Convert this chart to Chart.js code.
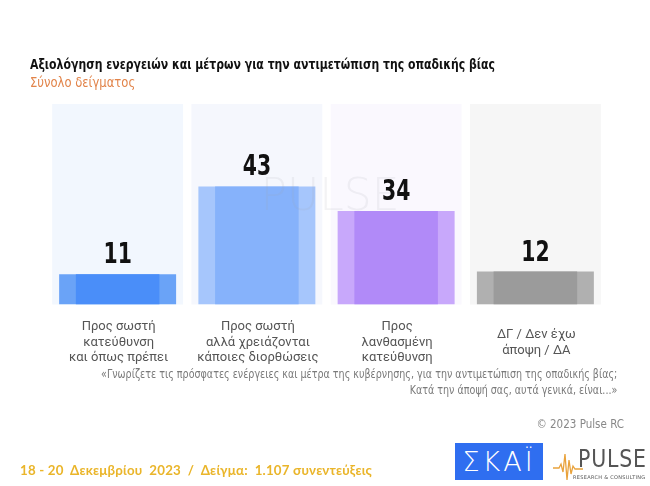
<!DOCTYPE html>
<html>
<head>
<meta charset="utf-8">
<script src="https://cdn.jsdelivr.net/npm/chart.js@4.4.1/dist/chart.umd.min.js"></script>
<style>
  html, body { margin:0; padding:0; background:#fff; }
  #wrap { position:relative; width:650px; height:486px; overflow:hidden; font-family:'DejaVu Sans Condensed','Roboto',sans-serif; }
  #c { position:absolute; left:0; top:0; }
  .t { position:absolute; white-space:nowrap; }
  #title { left:30px; top:56px; font-size:14.5px; font-weight:bold; color:#111; transform:scaleX(0.835); transform-origin:left; }
  #sub { left:30px; top:74px; font-size:14px; color:#e2844a; transform:scaleX(0.92); transform-origin:left; }
  #q { right:33px; top:366px; font-size:12px; color:#7a7a7a; text-align:right; line-height:16px; transform:scaleX(0.885); transform-origin:right; }
  #copy { right:26px; top:417px; font-size:11.5px; color:#888; }
  #date { left:20px; top:462px; font-family:Lato,'Open Sans',sans-serif; font-size:13.3px; font-weight:bold; color:#eab52a; letter-spacing:0.2px; }
  #skai { position:absolute; left:455px; top:443px; width:88px; height:37px; background:#2f6ef0; color:#fff; font-family:'DejaVu Sans',sans-serif; font-size:27px; line-height:37px; text-align:center; letter-spacing:3px; font-weight:300; }
  #pulse { position:absolute; left:578px; top:444px; font-family:'DejaVu Sans','Liberation Sans',sans-serif; font-size:25px; color:#555; letter-spacing:1px; font-weight:normal; transform:scaleX(0.82); transform-origin:left; }
  #pulsesub { position:absolute; left:573px; top:474px; font-size:5px; color:#555; letter-spacing:0.3px; font-family:'DejaVu Sans',sans-serif; }
</style>
</head>
<body>
<div id="wrap">
  <canvas id="c" width="650" height="486"></canvas>
  <div class="t" id="title">Αξιολόγηση ενεργειών και μέτρων για την αντιμετώπιση της οπαδικής βίας</div>
  <div class="t" id="sub">Σύνολο δείγματος</div>
  <div class="t" id="q">«Γνωρίζετε τις πρόσφατες ενέργειες και μέτρα της κυβέρνησης, για την αντιμετώπιση της οπαδικής βίας;<br>Κατά την άποψή σας, αυτά γενικά, είναι...»</div>
  <div class="t" id="copy">© 2023 Pulse RC</div>
  <div class="t" id="date">18 - 20&nbsp; Δεκεμβρίου&nbsp; 2023&nbsp; /&nbsp; Δείγμα:&nbsp; 1.107 συνεντεύξεις</div>
  <div id="skai">ΣΚΑΪ</div>
  <svg style="position:absolute;left:553px;top:446px" width="30" height="36" viewBox="0 0 30 36">
    <polyline points="0,22 6,22 8,18 10,26 12,8 14,34 16,14 18,28 20,20 22,23 30,23" fill="none" stroke="#e9a23b" stroke-width="1.3"/>
  </svg>
  <div id="pulse">PULSE</div>
  <div id="pulsesub">RESEARCH &amp; CONSULTING</div>
</div>
<script>
const categories = [
  ['Προς σωστή', 'κατεύθυνση', 'και όπως πρέπει'],
  ['Προς σωστή', 'αλλά χρειάζονται', 'κάποιες διορθώσεις'],
  ['Προς', 'λανθασμένη', 'κατεύθυνση'],
  ['ΔΓ / Δεν έχω', 'άποψη / ΔΑ']
];
const values = [11, 43, 34, 12];
const scaleMax = 73;
const outerColors = ['#6aa3f7', '#a6c6fc', '#c8a8fb', '#b0b0b0'];
const innerColors = ['#4a8ef9', '#86b2fb', '#b18af8', '#9b9b9b'];
const columnColors = ['#f2f7fe', '#f5f7fd', '#faf8fe', '#f6f6f6'];

const columnsPlugin = {
  id: 'columns',
  beforeDatasetsDraw(chart) {
    const {ctx, chartArea, scales:{x}} = chart;
    const w = (x.getPixelForValue(1) - x.getPixelForValue(0)) * 0.94;
    ctx.save();
    categories.forEach((c, i) => {
      const cx = x.getPixelForValue(i);
      ctx.fillStyle = columnColors[i];
      ctx.fillRect(cx - w/2, chartArea.top, w, chartArea.bottom - chartArea.top);
    });
    ctx.restore();
  },
  afterDatasetsDraw(chart) {
    const {ctx, chartArea, scales:{x}} = chart;
    ctx.save();
    // watermark
    ctx.fillStyle = 'rgba(160,160,170,0.13)';
    ctx.font = '300 44px "DejaVu Sans", sans-serif';
    ctx.textAlign = 'center';
    ctx.textBaseline = 'alphabetic';
    ctx.fillText('PULSE', 330, 210);
    // values
    const meta = chart.getDatasetMeta(1);
    ctx.fillStyle = '#111';
    ctx.font = 'bold 29px "DejaVu Sans Condensed", sans-serif';
    meta.data.forEach((bar, i) => {
      ctx.save();
      ctx.translate(bar.x, bar.y - 11);
      ctx.scale(0.78, 1);
      ctx.fillText(String(values[i]), 0, 0);
      ctx.restore();
    });
    // category labels
    ctx.fillStyle = '#555';
    ctx.font = '13px Roboto, "DejaVu Sans Condensed", sans-serif';
    ctx.textBaseline = 'middle';
    const lh = 15.5;
    categories.forEach((lines, i) => {
      const cx = x.getPixelForValue(i) + 1;
      const startY = 342.5 - (lines.length - 1) * lh / 2;
      lines.forEach((l, j) => ctx.fillText(l, cx, startY + j * lh));
    });
    ctx.restore();
  }
};

new Chart(document.getElementById('c'), {
  type: 'bar',
  data: {
    labels: categories.map(c => c.join(' ')),
    datasets: [
      { data: values, backgroundColor: innerColors, barPercentage: 0.6, categoryPercentage: 1, grouped: false, order: 1 },
      { data: values, backgroundColor: outerColors, barPercentage: 0.84, categoryPercentage: 1, grouped: false, order: 2 }
    ]
  },
  options: {
    responsive: false,
    animation: false,
    layout: { padding: { left: 48, right: 45, top: 104, bottom: 181.5 } },
    plugins: { legend: { display: false }, tooltip: { enabled: false } },
    scales: {
      x: { display: false },
      y: { display: false, min: 0, max: scaleMax }
    }
  },
  plugins: [columnsPlugin]
});
</script>
</body>
</html>
